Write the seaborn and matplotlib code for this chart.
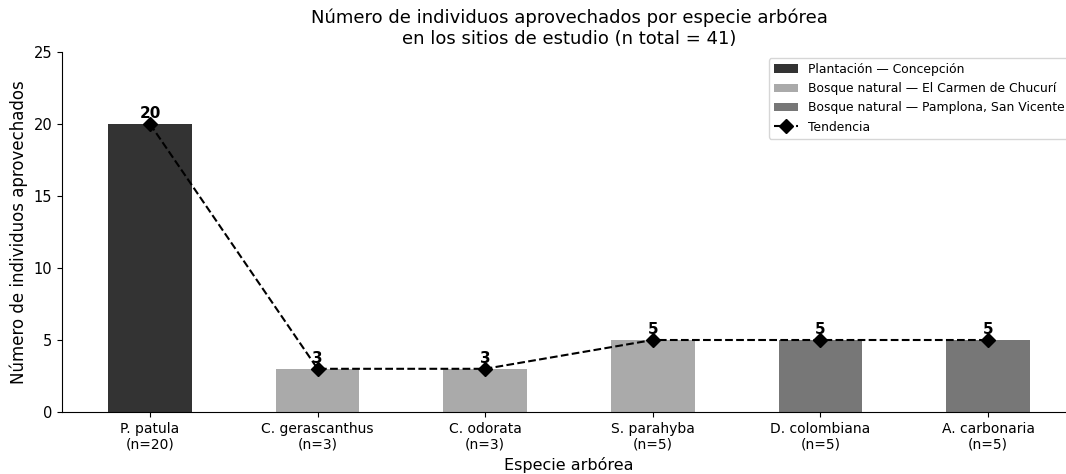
import matplotlib
matplotlib.use("Agg")
import matplotlib.pyplot as plt
import seaborn as sns
import pandas as pd

species = ["P. patula", "C. gerascanthus", "C. odorata", "S. parahyba", "D. colombiana", "A. carbonaria"]
counts = [20, 3, 3, 5, 5, 5]
groups = ["Plantación — Concepción",
          "Bosque natural — El Carmen de Chucurí",
          "Bosque natural — El Carmen de Chucurí",
          "Bosque natural — El Carmen de Chucurí",
          "Bosque natural — Pamplona, San Vicente",
          "Bosque natural — Pamplona, San Vicente"]
group_order = ["Plantación — Concepción",
               "Bosque natural — El Carmen de Chucurí",
               "Bosque natural — Pamplona, San Vicente"]
group_colors = ["#333333", "#aaaaaa", "#777777"]

labels = [f"{s}\n(n={c})" for s, c in zip(species, counts)]
df = pd.DataFrame({"label": labels, "count": counts, "group": groups})

plt.style.use("default")
plt.rcParams['font.family'] = ['DejaVu Sans']

fig = plt.figure(figsize=(10.66, 4.74), dpi=100)
ax = fig.add_axes([62 / 1066, 62 / 474, 1014 / 1066, 360 / 474])

sns.barplot(data=df, x="label", y="count", hue="group", hue_order=group_order,
            palette=dict(zip(group_order, group_colors)), dodge=False, width=0.5,
            ax=ax, saturation=1, linewidth=0, edgecolor="none")

xs = list(range(len(labels)))
ax.plot(xs, counts, linestyle="--", color="black", marker="D", markersize=7,
        linewidth=1.5, label="Tendencia")

for x, c in zip(xs, counts):
    ax.text(x, c + 0.2, str(c), ha="center", va="bottom", fontsize=11,
            fontweight="bold", color="black")

ax.set_xlim(-0.525, 5.525)
ax.set_ylim(0, 25)
ax.set_yticks([0, 5, 10, 15, 20, 25])
ax.tick_params(axis="x", labelsize=10)
ax.tick_params(axis="y", labelsize=10.5)
ax.set_xlabel("Especie arbórea", fontsize=11.5)
ax.set_ylabel("Número de individuos aprovechados", fontsize=12)
ax.set_title("Número de individuos aprovechados por especie arbórea\nen los sitios de estudio (n total = 41)", fontsize=13)
ax.spines["top"].set_visible(False)
ax.spines["right"].set_visible(False)

ax.legend(loc="upper right", fontsize=8.9, frameon=True)

fig.savefig("out.png", dpi=100)
